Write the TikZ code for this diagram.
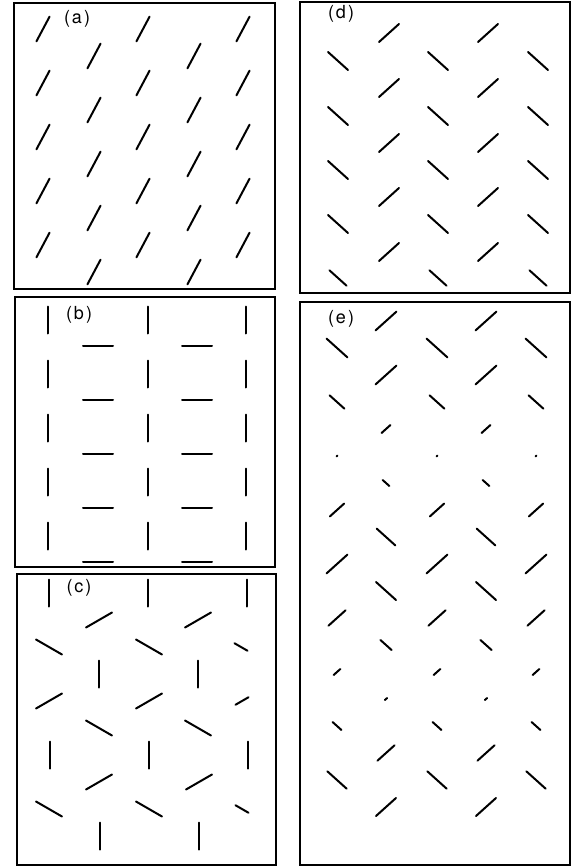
\documentclass[tikz,border=0pt]{standalone}
\usepackage{xcolor}
\usepackage{fontspec}
\setsansfont{TeX Gyre Heros}
\usepackage{tikz}

\begin{document}
\begin{tikzpicture}[x=1pt,y=-1pt,
    frame/.style={line width=1.3pt},
    seg/.style={line width=2pt,line cap=round},
    lbl/.style={font=\fontsize{18}{18}\selectfont\sffamily,inner sep=0pt}]
    \def\lseg#1#2#3#4{\draw[seg,shift={(#1,#2)},rotate=#3] (-#4/2,0) -- (#4/2,0);}

    \useasboundingbox (0,0) rectangle (574,867);

    % panel (a)
    \draw[frame] (14,3) rectangle (275,289);
    \node[lbl] (la) at (77,19) {(\hspace{2pt}a\hspace{2pt})};
    \foreach \y in {29,83,137,191,245}
        \foreach \x in {43,143,243} {\lseg{\x}{\y}{62}{28}}
    \foreach \y in {56,110,164,218,272}
        \foreach \x in {94,194} {\lseg{\x}{\y}{62}{28}}

    % panel (b)
    \draw[frame] (15,297) rectangle (275,567);
    \node[lbl] (lb) at (79,315) {(\hspace{2pt}b\hspace{2pt})};
    \foreach \y in {320,374,428,482,536}
        \foreach \x in {48,148,246} {\lseg{\x}{\y}{90}{27}}
    \foreach \y in {346,400,454,508,562}
        \foreach \x in {98,197} {\lseg{\x}{\y}{0}{30}}

    % panel (c)
    \draw[frame] (17,574) rectangle (276,865);
    \node[lbl] (lc) at (79,588) {(\hspace{2pt}c\hspace{2pt})};
    \foreach \x/\y/\a/\l in {49/593/90/27, 148/593/90/27, 247/593/90/27,
        99/620/30/30, 198/620/30/30,
        49/647/150/30, 149/647/150/30, 241/647/150/15,
        99/674/90/27, 198/674/90/27,
        49/701/30/30, 149/701/30/30, 242/701/30/15,
        99/728/150/30, 198/728/150/30,
        50/755/90/27, 149/755/90/27, 248/755/90/27,
        99/782/30/30, 199/782/30/30,
        49/809/150/30, 149/809/150/30, 242/809/150/15,
        100/836/90/27, 199/836/90/27} {\lseg{\x}{\y}{\a}{\l}}

    % panel (d)
    \draw[frame] (300,2) rectangle (570,293);
    \node[lbl] (ld) at (341,14) {(\hspace{2pt}d\hspace{2pt})};
    \foreach \y in {33,88,143,197,252}
        \foreach \x in {389,488} {\lseg{\x}{\y}{42}{27}}
    \foreach \y/\l in {61/27,116/27,170/27,224/27,278/23}
        \foreach \x in {338,438,538} {\lseg{\x}{\y}{138}{\l}}

    % panel (e)
    \draw[frame] (300,302) rectangle (570,865);
    \node[lbl] (le) at (341,319) {(\hspace{2pt}e\hspace{2pt})};
    \foreach \y/\a/\l in {321/42/28, 375/42/28, 429/42/12, 483/138/9,
        537/138/25, 591/138/27, 645/138/15, 699/42/3, 753/42/23, 807/42/27}
        \foreach \x in {386,486} {\lseg{\x}{\y}{\a}{\l}}
    \foreach \y/\a/\l in {348/138/28, 402/138/20, 456/42/1, 510/42/19,
        564/42/28, 618/42/23, 672/42/9, 726/138/12, 780/138/26}
        \foreach \x in {337,437,536} {\lseg{\x}{\y}{\a}{\l}}

\end{tikzpicture}
\end{document}
